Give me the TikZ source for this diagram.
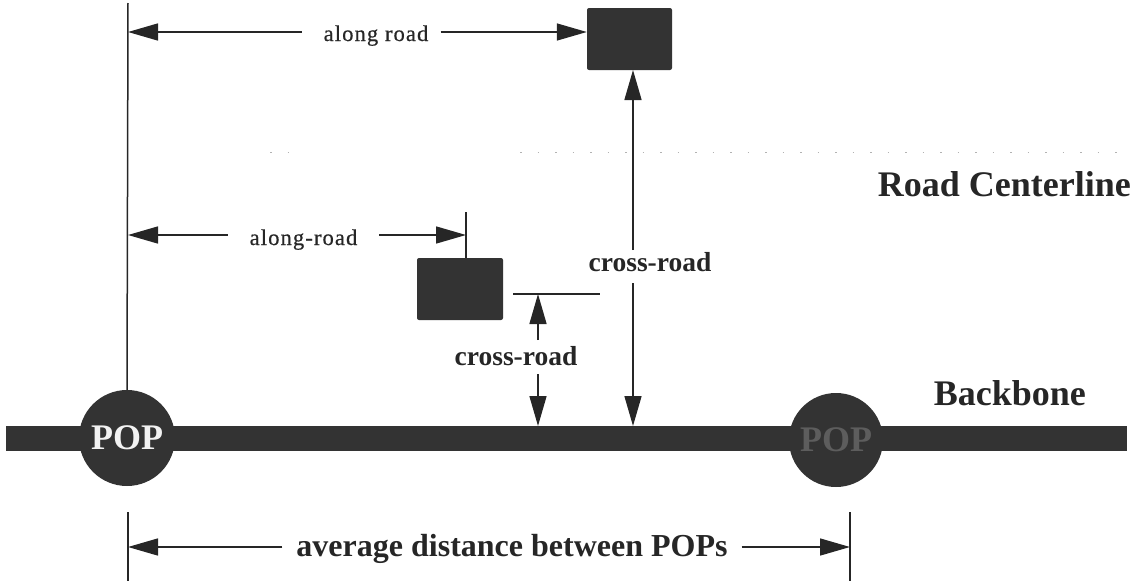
\documentclass[tikz,border=0pt]{standalone}
\usepackage{fontspec}
\setmainfont{Liberation Serif}
\usetikzlibrary{arrows.meta}
\definecolor{ink}{HTML}{262626}
\definecolor{slab}{HTML}{333333}
\begin{document}
\begin{tikzpicture}[x=1pt,y=-1pt,
  rule/.style={draw=ink, line width=1.5pt},
  dimarrow/.style={rule, -{Triangle[length=30pt,width=17pt]}},
  block/.style={fill=slab, draw=none, rounded corners=2pt, inner sep=0pt},
  popnode/.style={circle, fill=slab, inner sep=0pt,
    font=\fontsize{36}{36}\selectfont\bfseries},
  smalllbl/.style={inner sep=0pt, text=ink, anchor=base,
    font=\fontsize{22.5}{23}\selectfont\addfontfeature{LetterSpace=5,FakeBold=0.6}},
  crosslbl/.style={inner sep=0pt, text=ink, anchor=base,
    font=\fontsize{27.5}{28}\selectfont\bfseries},
  biglbl/.style={inner sep=0pt, text=ink,
    font=\fontsize{36}{36}\selectfont\bfseries}]
\useasboundingbox (0,0) rectangle (1136,581);

% road centerline (faint dotted trace)
\draw[gray!60, line width=1pt, dash pattern=on 1.5pt off 16pt] (520,152) -- (1130,152);
\draw[gray!60, line width=1pt, dash pattern=on 1.5pt off 16pt] (270,152) -- (300,152);
\node[biglbl, anchor=base east] (roadlbl) at (1131,196) {Road Centerline};

% backbone bar and POPs
\node[fill=slab, inner sep=0pt, minimum width=1121pt, minimum height=25pt] (bb) at (566.5,438.5) {};
\node[popnode, minimum size=96pt, text=gray!10] (popA) at (127,438) {POP};
\node[popnode, minimum size=94pt, text=gray!55!slab] (popB) at (836,440) {POP};
\node[biglbl, anchor=base east] (bblbl) at (1086,405) {Backbone};

% customer sites
\node[block, minimum width=85pt, minimum height=62pt] (far) at (629.5,39) {};
\node[block, minimum width=86pt, minimum height=62pt] (near) at (460,289) {};

% reference line through the first POP
\coordinate (reftop) at (128,3);
\draw[rule] (reftop) -- (popA.north);

% along-road distance to the far site
\node[smalllbl] (alA) at (376,41) {along road};
\draw[dimarrow] ([xshift=-22pt]alA.west |- 0,32) -- (reftop |- 0,32);
\draw[dimarrow] ([xshift=12pt]alA.east |- 0,32) -- (far.west |- 0,32);

% along-road distance to the near site
\coordinate (tickN) at (466,212);
\draw[rule] (tickN) -- (tickN |- near.north);
\node[smalllbl] (alB) at (303.5,245) {along-road};
\draw[dimarrow] ([xshift=-22pt]alB.west |- 0,235) -- (reftop |- 0,235);
\draw[dimarrow] ([xshift=22pt]alB.east |- 0,235) -- (tickN |- 0,235);

% cross-road offset of the far site
\node[crosslbl] (crA) at (650,271) {cross-road};
\coordinate (farfoot) at (633,70);
\coordinate (bbA) at (633,426);
\draw[dimarrow] (633,250) -- (farfoot);
\draw[dimarrow] (633,283) -- (bbA);

% cross-road offset of the near site
\coordinate (tickL) at (513,294);
\coordinate (tickR) at (600,294);
\draw[rule] (tickL) -- (tickR);
\node[crosslbl] (crB) at (516,365) {cross-road};
\coordinate (bbB) at (538,426);
\draw[dimarrow] (538,340) -- (tickL -| bbB);
\draw[dimarrow] (538,374) -- (bbB);

% spacing between POPs
\coordinate (dimL) at (128,512);
\coordinate (dimR) at (850,512);
\draw[rule] (dimL) -- (128,581);
\draw[rule] (dimR) -- (850,581);
\node[biglbl, anchor=base, font=\fontsize{32}{32}\selectfont\bfseries] (avg) at (512,556) {average distance between POPs};
\draw[dimarrow] ([xshift=-14pt]avg.west |- 0,547) -- (dimL |- 0,547);
\draw[dimarrow] ([xshift=14pt]avg.east |- 0,547) -- (dimR |- 0,547);
\end{tikzpicture}
\end{document}
